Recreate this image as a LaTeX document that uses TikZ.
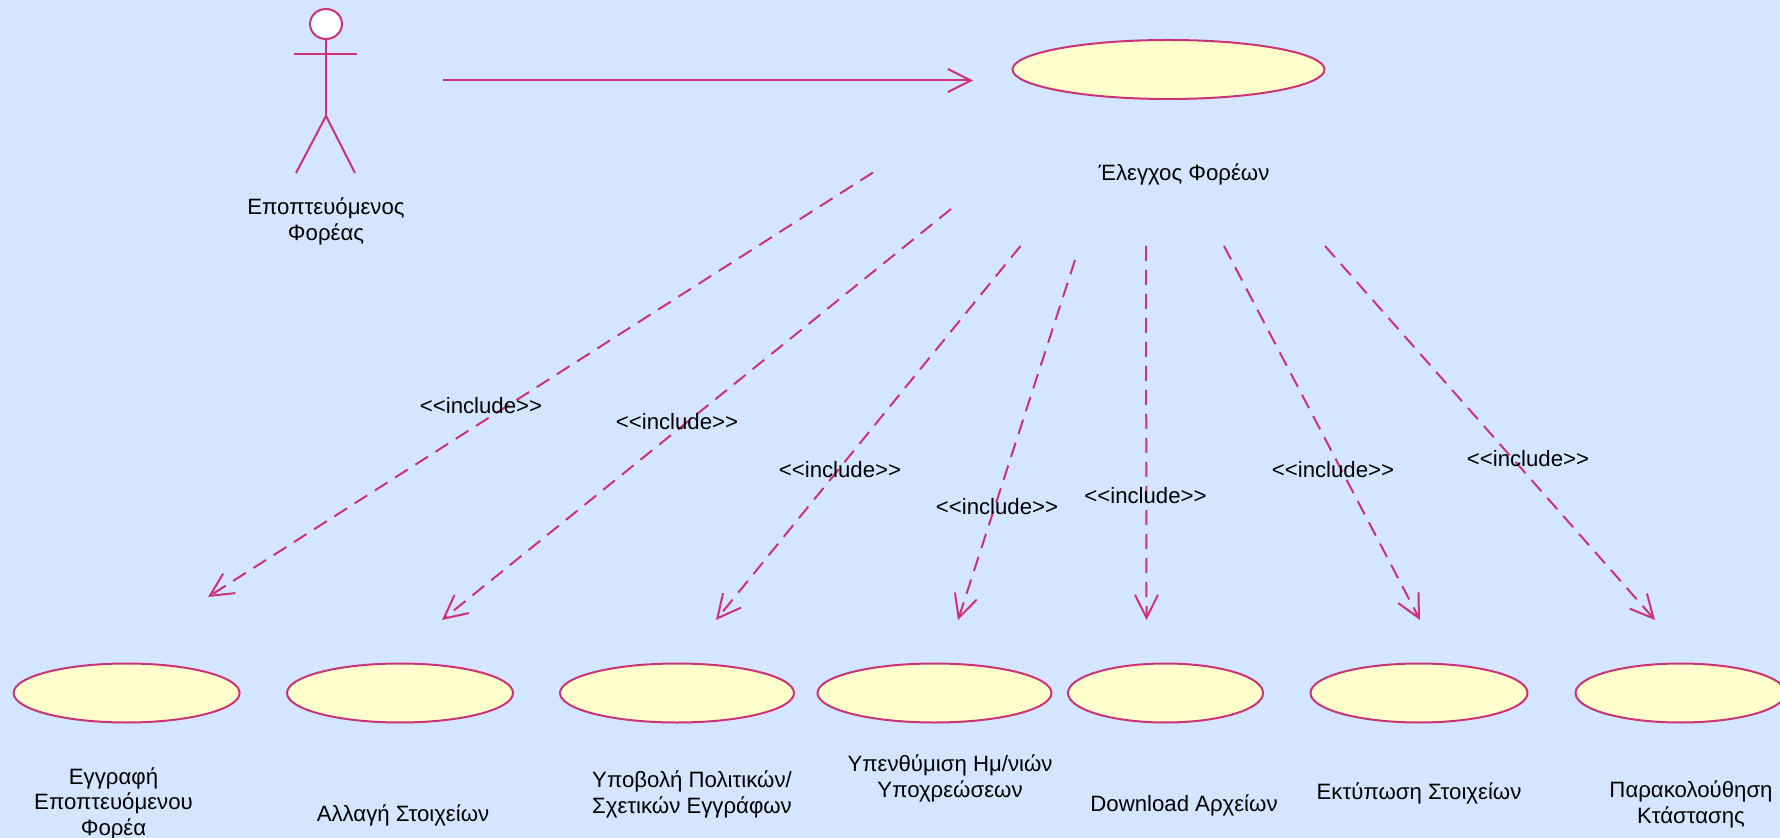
\documentclass[tikz,border=0pt]{standalone}
\usepackage{fontspec}
\setmainfont{Liberation Sans}
\usetikzlibrary{shapes.geometric,arrows.meta}
\definecolor{bgblue}{HTML}{D3E5FF}
\definecolor{umlpink}{HTML}{CC3377}
\definecolor{umlcream}{HTML}{FFFFCC}
\tikzset{
  usecase/.style={ellipse,draw=umlpink,fill=umlcream,line width=1pt,inner sep=0pt,outer sep=0pt,minimum height=29.5pt},
  txt/.style={align=center,inner sep=0pt,yshift=-.8pt,font=\fontsize{11.1}{12.8}\selectfont},
  limb/.style={draw=umlpink,line width=1pt},
  assoc/.style={limb,-{Straight Barb[length=11.5pt,width=11.5pt,line width=1pt]}},
  incl/.style={assoc,dash pattern=on 7.5pt off 4.5pt}
}
\begin{document}
\begin{tikzpicture}[x=.5pt,y=-.5pt]
  \useasboundingbox (0,0) rectangle (1780,838);
  \fill[bgblue] (0,0) rectangle (1780,838);

  \node [ellipse,draw=umlpink,fill=white,line width=1pt,inner sep=0pt,outer sep=0pt,minimum width=16pt,minimum height=15pt] (actorhead) at (326,24) {};
  \coordinate (actorhip) at (326,116);
  \coordinate (armleft) at (294,54.5);
  \coordinate (armright) at (357,54.5);
  \coordinate (footleft) at (296,173);
  \coordinate (footright) at (355,173);
  \draw[limb] (actorhead.south) -- (actorhip);
  \draw[limb] (armleft) -- (armright);
  \draw[limb] (footleft) -- (actorhip) -- (footright);
  \node [txt] (actorlabel) at (326,220) {Εποπτευόμενος\\Φορέας};

  \node [usecase,minimum width=156pt] (control) at (1168.5,69.5) {};
  \node [txt] (controllabel) at (1184,173) {Έλεγχος Φορέων};

  \node [usecase,minimum width=113pt] (register) at (126.6,693) {};
  \node [usecase,minimum width=113pt] (change) at (400,693) {};
  \node [usecase,minimum width=117pt] (submit) at (677,693) {};
  \node [usecase,minimum width=117pt] (remind) at (934.5,693) {};
  \node [usecase,minimum width=97.5pt] (download) at (1165.5,693) {};
  \node [usecase,minimum width=108.5pt] (print) at (1419,693) {};
  \node [usecase,minimum width=105pt] (status) at (1680.5,693) {};

  \node [txt] (registerlabel) at (113.5,802) {Εγγραφή\\Εποπτευόμενου\\Φορέα};
  \node [txt] (changelabel) at (403,814) {Αλλαγή Στοιχείων};
  \node [txt] (submitlabel) at (692,793) {Υποβολή Πολιτικών/\\Σχετικών Εγγράφων};
  \node [txt] (remindlabel) at (950,777) {Υπενθύμιση Ημ/νιών\\Υποχρεώσεων};
  \node [txt] (downloadlabel) at (1184,804) {Download Αρχείων};
  \node [txt] (printlabel) at (1419,792) {Εκτύπωση Στοιχείων};
  \node [txt] (statuslabel) at (1691,803) {Παρακολούθηση\\Κτάστασης};

  \coordinate (actorout) at (443,80.5);
  \coordinate (controlin) at (973,80.5);
  \draw[assoc] (actorout) -- (controlin);

  \coordinate (outA) at (873,172.5);
  \coordinate (outB) at (951,209);
  \coordinate (outC) at (1020.5,246);
  \coordinate (outD) at (1075,260);
  \coordinate (outE) at (1146,246);
  \coordinate (outF) at (1224,246);
  \coordinate (outG) at (1325,246);
  \coordinate (inA) at (208,597);
  \coordinate (inB) at (442,620);
  \coordinate (inC) at (716,620);
  \coordinate (inD) at (958,620);
  \coordinate (inE) at (1146.5,620);
  \coordinate (inF) at (1420,620);
  \coordinate (inG) at (1655,620);
  \draw[incl] (outA) -- (inA);
  \draw[incl] (outB) -- (inB);
  \draw[incl] (outC) -- (inC);
  \draw[incl] (outD) -- (inD);
  \draw[incl] (outE) -- (inE);
  \draw[incl] (outF) -- (inF);
  \draw[incl] (outG) -- (inG);

  \node [txt] (inclA) at (481,404) {<{}<include>{}>};
  \node [txt] (inclB) at (677,420) {<{}<include>{}>};
  \node [txt] (inclC) at (840,468) {<{}<include>{}>};
  \node [txt] (inclD) at (997,505) {<{}<include>{}>};
  \node [txt] (inclE) at (1145.5,494) {<{}<include>{}>};
  \node [txt] (inclF) at (1333,468) {<{}<include>{}>};
  \node [txt] (inclG) at (1528,457) {<{}<include>{}>};
\end{tikzpicture}
\end{document}
